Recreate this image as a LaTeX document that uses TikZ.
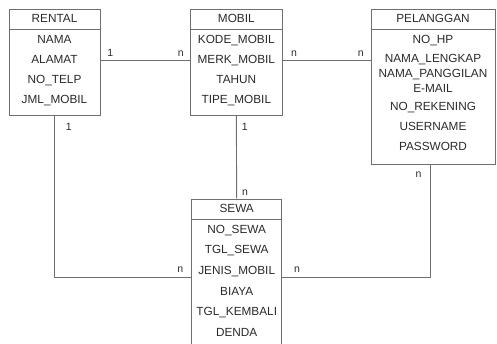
\documentclass[tikz,border=0pt]{standalone}
\usepackage{fontspec}
\setmainfont{Liberation Sans}
\usetikzlibrary{positioning}
\definecolor{linegray}{HTML}{6F6F6F}
\definecolor{textgray}{HTML}{2A2A2A}

\begin{document}
\begin{tikzpicture}[x=1pt,y=-1pt,
	box/.style={draw=linegray,line width=0.9pt,inner sep=0pt},
	attr/.style={text=textgray,inner sep=0pt,text height=8pt,text depth=0pt,
		font=\fontsize{11.8}{13}\selectfont},
	hdr/.style={box,attr,minimum height=20pt,anchor=north},
	card/.style={text=textgray,inner sep=0pt,font=\fontsize{10.5}{12}\selectfont},
	rel/.style={draw=linegray,line width=0.9pt}]
	\clip (0,0) rectangle (497,344);
	% entity boxes
	\draw (54.5,62)  node[box,minimum width=91pt,minimum height=106pt] (rentalbox) {};
	\draw (236.3,62) node[box,minimum width=92pt,minimum height=106pt] (mobilbox) {};
	\draw (433,86.5) node[box,minimum width=124pt,minimum height=155pt] (pelbox) {};
	\draw (236.7,279) node[box,minimum width=90pt,minimum height=160pt] (sewabox) {};
	\draw (rentalbox.north) node[hdr,minimum width=91pt] (rental) {RENTAL};
	\draw (mobilbox.north)  node[hdr,minimum width=92pt] (mobil) {MOBIL};
	\draw (pelbox.north)    node[hdr,minimum width=124pt] (pel) {PELANGGAN};
	\draw (sewabox.north)   node[hdr,minimum width=90pt] (sewa) {SEWA};
	% RENTAL
	\draw (54.5,40)  node[attr] (nama)    {NAMA};
	\draw (54.5,60)  node[attr] (alamat)  {ALAMAT};
	\draw (54.5,80)  node[attr] (notelp)  {NO\_TELP};
	\draw (54.5,100) node[attr] (jmlmob)  {JML\_MOBIL};
	% MOBIL
	\draw (236.3,40)  node[attr] (kode)   {KODE\_MOBIL};
	\draw (236.3,60)  node[attr] (merk)   {MERK\_MOBIL};
	\draw (236.3,80)  node[attr] (tahun)  {TAHUN};
	\draw (236.3,100) node[attr] (tipe)   {TIPE\_MOBIL};
	% PELANGGAN
	\draw (433,40)    node[attr] (nohp)    {NO\_HP};
	\draw (433,58.3)  node[attr] (lengkap) {NAMA\_LENGKAP};
	\draw (433,73.3)  node[attr] (panggil) {NAMA\_PANGGILAN};
	\draw (433,88.3)  node[attr] (email)   {E-MAIL};
	\draw (433,106.7) node[attr] (norek)   {NO\_REKENING};
	\draw (433,126.7) node[attr] (user)    {USERNAME};
	\draw (433,146.7) node[attr] (pass)    {PASSWORD};
	% SEWA
	\draw (236.7,230) node[attr] (nosewa)  {NO\_SEWA};
	\draw (236.7,250) node[attr] (tglsewa) {TGL\_SEWA};
	\draw (236.7,270.5) node[attr] (jenis) {JENIS\_MOBIL};
	\draw (236.7,291) node[attr] (biaya)   {BIAYA};
	\draw (236.7,311.5) node[attr] (tglkem) {TGL\_KEMBALI};
	\draw (236.7,332) node[attr] (denda)   {DENDA};
	% relations
	\draw[rel] (rentalbox.east |- alamat) -- node[card,above=3pt,pos=0.11] {1}
		node[card,above=3pt,pos=0.9] {n} (mobilbox.west |- alamat);
	\draw[rel] (mobilbox.east |- alamat) -- node[card,above=3pt,pos=0.13] {n}
		node[card,above=3pt,pos=0.89] {n} (pelbox.west |- alamat);
	\draw[rel] (mobilbox.south) -- node[card,right=5pt,pos=0.14] {1}
		node[card,right=5pt,pos=0.93] {n} (sewabox.north);
	\draw[rel] (rentalbox.south) -- node[card,right=11pt,pos=0.07] {1}
		([yshift=-7.2pt]rentalbox.south |- jenis) -- node[card,above=5pt,pos=0.92] {n}
		([yshift=-7.2pt]sewabox.west |- jenis);
	\draw[rel] ([xshift=-3pt]pelbox.south) -- node[card,left=8pt,pos=0.09] {n}
		([xshift=-3pt,yshift=-7.2pt]pelbox.south |- jenis) -- node[card,above=5pt,pos=0.9] {n}
		([yshift=-7.2pt]sewabox.east |- jenis);
\end{tikzpicture}
\end{document}
